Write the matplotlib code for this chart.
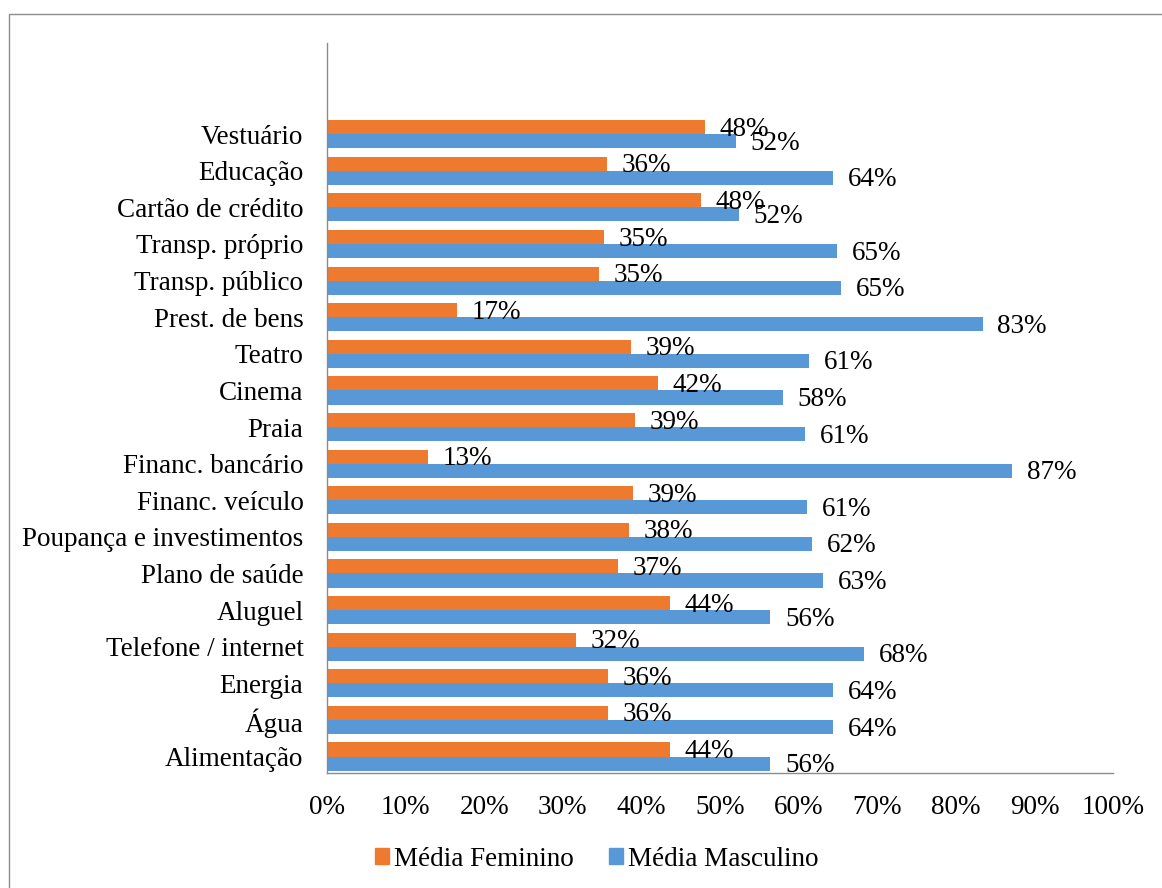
import numpy as np
import matplotlib
matplotlib.use('Agg')
import matplotlib.pyplot as plt
from matplotlib.patches import Rectangle, Patch

plt.rcParams['font.family'] = ['Liberation Serif', 'DejaVu Serif']

# categories from bottom to top
categories = ['Alimentação', 'Água', 'Energia', 'Telefone / internet', 'Aluguel',
              'Plano de saúde', 'Poupança e investimentos', 'Financ. veículo',
              'Financ. bancário', 'Praia', 'Cinema', 'Teatro', 'Prest. de bens',
              'Transp. público', 'Transp. próprio', 'Cartão de crédito',
              'Educação', 'Vestuário']
feminino = [43.6, 35.7, 35.7, 31.7, 43.6, 37.0, 38.4, 38.9, 12.9, 39.2,
            42.1, 38.7, 16.6, 34.6, 35.2, 47.6, 35.6, 48.1]
masculino = [56.4, 64.4, 64.4, 68.3, 56.4, 63.1, 61.7, 61.1, 87.2, 60.8,
             58.0, 61.3, 83.4, 65.4, 64.9, 52.4, 64.4, 52.0]
series_names = ['Média Feminino', 'Média Masculino']

c_fem = '#EE7A2F'
c_masc = '#5898D6'
fs = 19.5

fig = plt.figure(figsize=(11.62, 8.88), dpi=100)
ax = fig.add_axes([327/1162, 1 - 773/888, (1113 - 327)/1162, (773 - 43)/888])

y = np.arange(len(categories))
h = 0.385
ax.barh(y + h/2, feminino, height=h, color=c_fem, label=series_names[0])
ax.barh(y - h/2, masculino, height=h, color=c_masc, label=series_names[1])

# data labels, a little below the bar centre like the original
for yi, f, m in zip(y, feminino, masculino):
    ax.annotate(f'{f:.0f}%', (f, yi + h/2), xytext=(10.5, -1.5), textcoords='offset points',
                ha='left', va='center', fontsize=fs)
    ax.annotate(f'{m:.0f}%', (m, yi - h/2), xytext=(10.5, -1.5), textcoords='offset points',
                ha='left', va='center', fontsize=fs)

ax.set_xlim(0, 100)
ax.set_ylim(-0.45, 19.49)
ax.set_xticks(np.arange(0, 101, 10))
ax.set_xticklabels([f'{v}%' for v in range(0, 101, 10)], fontsize=fs)
ax.set_yticks(y)
ax.set_yticklabels(categories, fontsize=fs)
ax.tick_params(axis='both', length=0)
ax.tick_params(axis='x', pad=16)
ax.tick_params(axis='y', pad=17)
for s in ['top', 'right']:
    ax.spines[s].set_visible(False)
for s in ['left', 'bottom']:
    ax.spines[s].set_color('#8c8c8c')
    ax.spines[s].set_linewidth(1.0)

handles = [Patch(color=c_fem), Patch(color=c_masc)]
fig.legend(handles, series_names, loc='center', bbox_to_anchor=(597/1162, 1 - 859/888),
           ncol=2, frameon=False, fontsize=fs, handlelength=0.5, handleheight=0.5,
           handletextpad=0.2, columnspacing=1.3)

# outer chart border
fig.patches.append(Rectangle((9/1162, -0.1), 1.2, 1 - 14/888 + 0.1, transform=fig.transFigure,
                             fill=False, edgecolor='#8c8c8c', linewidth=1.0))

fig.savefig('out.png', dpi=100)
